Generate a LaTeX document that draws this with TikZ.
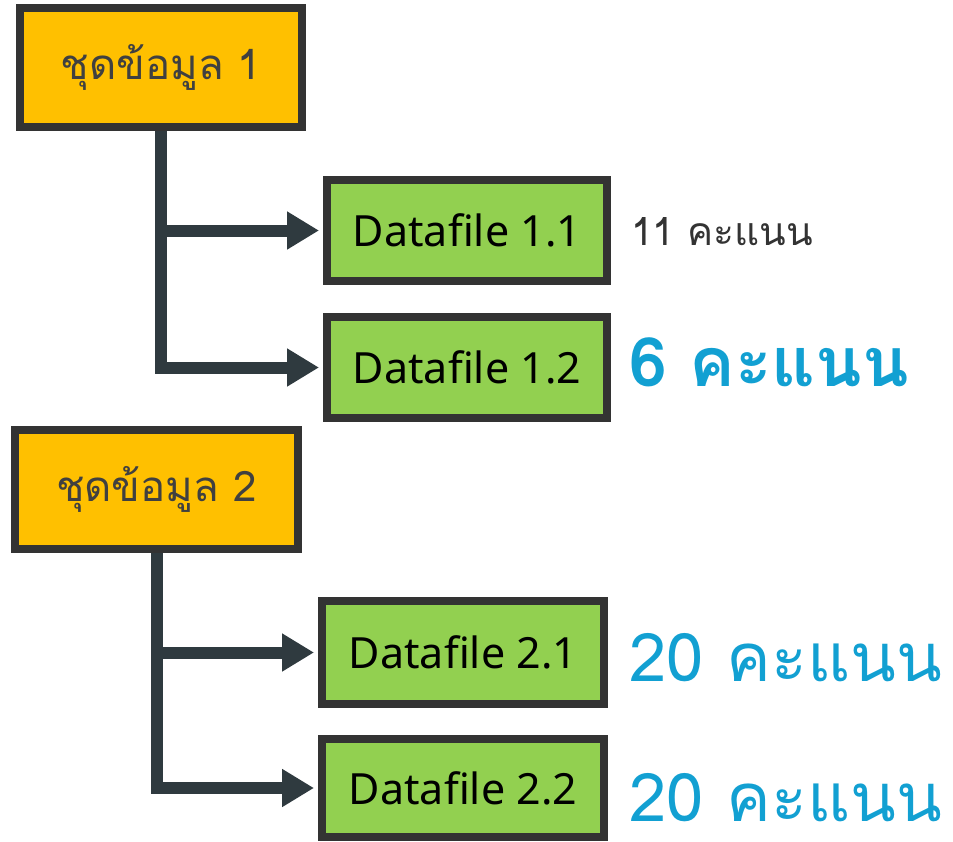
\documentclass[tikz,border=0pt]{standalone}
\usepackage{fontspec}
\setmainfont{Noto Sans}
\newfontfamily\thaifont[Script=Thai]{Loma}
\usetikzlibrary{arrows.meta}
\definecolor{boxorange}{HTML}{FFC000}
\definecolor{boxgreen}{HTML}{92D050}
\definecolor{boxline}{HTML}{333333}
\definecolor{connline}{HTML}{2F3A3F}
\definecolor{scoreblue}{HTML}{12A0D2}
\definecolor{grouptext}{HTML}{404040}
\tikzset{
  groupbox/.style={draw=boxline, fill=boxorange, line width=8pt, inner sep=0pt,
    minimum width=282pt, minimum height=119pt, font=\thaifont\fontsize{42}{50}\selectfont, text=grouptext},
  filebox/.style={draw=boxline, fill=boxgreen, line width=8pt, inner sep=0pt,
    minimum width=280pt, minimum height=101pt, font=\fontsize{43}{50}\selectfont, text=black},
  conn/.style={draw=connline, line width=12pt, line join=miter,
    -{Triangle[length=32pt,width=36pt]}, shorten >=4pt},
  scoresmall/.style={anchor=west, inner sep=0pt, text=boxline, font=\thaifont\fontsize{39}{46}\selectfont},
  scorebig/.style={anchor=west, inner sep=0pt, text=scoreblue, text depth=0pt, font=\thaifont\fontsize{67}{78}\selectfont},
}
\begin{document}
\begin{tikzpicture}[x=1pt,y=-1pt]
\useasboundingbox (0,0) rectangle (953,841);
\node[groupbox] (g1) at (161,67.5) {ชุดข้อมูล 1};
\node[filebox] (d11) at (467,230.5) {Datafile 1.1};
\node[filebox] (d12) at (467,367.5) {Datafile 1.2};
\node[groupbox, minimum width=283pt] (g2) at (156.5,489.5) {ชุดข้อมูล 2};
\node[filebox, minimum width=282pt, minimum height=103pt] (d21) at (463,652.5) {Datafile 2.1};
\node[filebox, minimum width=282pt, minimum height=98pt] (d22) at (463,788) {Datafile 2.2};

\coordinate (j11) at (g1.south |- d11.west);
\draw[conn] (g1.south) |- (d12.west);
\draw[conn] (j11) -- (d11.west);
\coordinate (j21) at (g2.south |- d21.west);
\draw[conn] (g2.south) |- (d22.west);
\draw[conn] (j21) -- (d21.west);

\node[scoresmall] (s11) at (631,232) {11 คะแนน};
\node[scorebig, font=\thaifont\bfseries\fontsize{68}{78}\selectfont] (s12) at (629,362) {6 คะแนน};
\node[scorebig] (s21) at (629,657) {20 คะแนน};
\node[scorebig] (s22) at (629,797) {20 คะแนน};
\end{tikzpicture}
\end{document}
